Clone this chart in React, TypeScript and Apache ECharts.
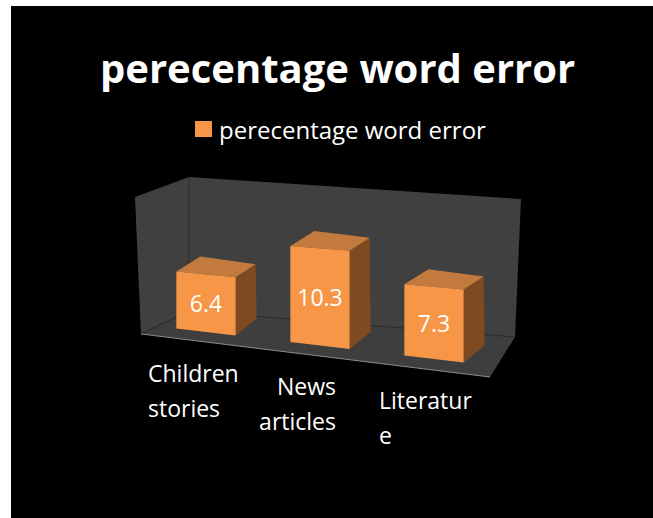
import { useEffect, useRef } from "react";
import * as echarts from "echarts";

const titleText = "perecentage word error";
const seriesName = "perecentage word error";
const categories = ["Children stories", "News articles", "Literature"];
const labelLines = [
  ["Children", "stories"],
  ["News", "articles"],
  ["Literatur", "e"],
];
const values = [6.4, 10.3, 7.3];

export default function App() {
  const ref = useRef<HTMLDivElement>(null);

  useEffect(() => {
    const chart = echarts.init(ref.current!, null, { renderer: "svg" });
    const FONT = '"Open Sans", "Noto Sans", sans-serif';
    const K = 0.118; // floor slope (perspective)
    const S = 0.00042; // height growth toward the right (perspective)
    const labelAlign = ["left", "right", "left"];
    const labelDx = [-58, 16, -55];

    const renderItem = (params: any, api: any) => {
      const i = api.value(0);
      const v = api.value(1);
      const [cx, y0] = api.coord([i, 0]);
      const xRef = api.coord([0, 0])[0];
      const top = api.coord([i, v])[1];
      const bw = api.size([1, 0])[0] * 0.52;
      const proj = (x: number, y: number) => {
        const dx = x - xRef;
        const h = y0 - y;
        return [x, y0 + K * dx - h * (1 + S * dx)];
      };
      const fl = proj(cx - bw / 2, top);
      const fr = proj(cx + bw / 2, top);
      const bl = proj(cx - bw / 2, y0);
      const br = proj(cx + bw / 2, y0);
      const tl = [fl[0] + 24, fl[1] - 15];
      const tr = [fr[0] + 20, fr[1] - 13];
      const bb = [br[0] + 21, br[1] - 17];
      const c = proj(cx, (top + y0) / 2);
      const base = proj(cx, y0);
      const lines = labelLines[i];
      const children: any[] = [
        { type: "polygon", shape: { points: [fr, tr, bb, br] }, style: { fill: "#7F4A1F" } },
        { type: "polygon", shape: { points: [fl, tl, tr, fr] }, style: { fill: "#C27A3E" } },
        { type: "polygon", shape: { points: [fl, fr, br, bl] }, style: { fill: "#F79646" } },
        {
          type: "text",
          x: c[0],
          y: c[1],
          style: {
            text: String(v),
            fill: "#ffffff",
            fontSize: 23,
            fontFamily: FONT,
            align: "center",
            verticalAlign: "middle",
          },
        },
      ];
      lines.forEach((ln, k) => {
        children.push({
          type: "text",
          x: cx + labelDx[i],
          y: base[1] + 41 + k * 35,
          style: {
            text: ln,
            fill: "#ffffff",
            fontSize: 23,
            fontFamily: FONT,
            align: labelAlign[i],
            verticalAlign: "middle",
          },
        });
      });
      return { type: "group", children };
    };

    const wallFill = "#404040";
    chart.setOption({
      animation: false,
      backgroundColor: "#ffffff",
      title: {
        text: titleText,
        left: 95,
        top: 42,
        textStyle: { color: "#ffffff", fontSize: 40, fontWeight: "bold", fontFamily: FONT },
      },
      legend: {
        data: [seriesName],
        left: 190,
        top: 112,
        icon: "rect",
        itemWidth: 17,
        itemHeight: 16,
        textStyle: { color: "#ffffff", fontSize: 24, fontFamily: FONT, padding: [0, 0, 0, 2] },
      },
      grid: { left: 149, right: 162, top: 224, bottom: 186 },
      xAxis: { type: "category", data: categories, show: false },
      yAxis: { type: "value", min: 0, max: 12, show: false },
      graphic: {
        elements: [
          { type: "rect", z: -10, silent: true, shape: { x: 11, y: 6, width: 642, height: 512 }, style: { fill: "#000000" } },
          { type: "polygon", z: -9, silent: true, shape: { points: [[135, 197], [189, 177], [189, 311], [141, 334]] }, style: { fill: wallFill } },
          { type: "polygon", z: -9, silent: true, shape: { points: [[189, 177], [521, 199], [515, 337], [189, 311]] }, style: { fill: wallFill } },
          { type: "polygon", z: -9, silent: true, shape: { points: [[141, 334], [189, 311], [515, 337], [490, 377]] }, style: { fill: "#3e3e3e" } },
          { type: "line", z: -8, silent: true, shape: { x1: 189, y1: 177, x2: 189, y2: 311 }, style: { stroke: "#2c2c2c", lineWidth: 1 } },
          { type: "line", z: -8, silent: true, shape: { x1: 189, y1: 311, x2: 515, y2: 337 }, style: { stroke: "#2c2c2c", lineWidth: 1 } },
          { type: "line", z: -8, silent: true, shape: { x1: 141, y1: 334, x2: 189, y2: 311 }, style: { stroke: "#2c2c2c", lineWidth: 1 } },
          { type: "line", z: -8, silent: true, shape: { x1: 141, y1: 334, x2: 490, y2: 377 }, style: { stroke: "#8c8c8c", lineWidth: 1 } },
        ],
      },
      series: [
        {
          name: seriesName,
          type: "custom",
          z: 5,
          itemStyle: { color: "#F79646" },
          renderItem,
          encode: { x: 0, y: 1 },
          data: values.map((v, i) => [i, v]),
        },
      ],
    });
    return () => chart.dispose();
  }, []);

  return (
    <div
      ref={ref}
      style={{ position: "absolute", left: 0, top: 0, width: 653, height: 518 }}
    />
  );
}
